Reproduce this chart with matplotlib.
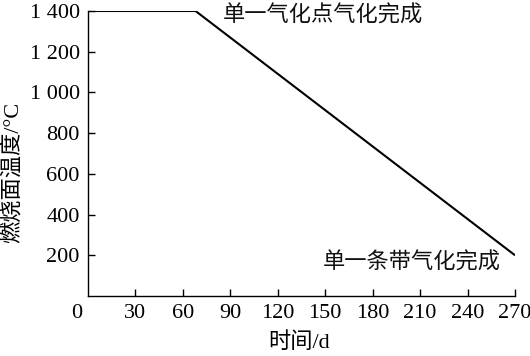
import matplotlib
matplotlib.use("Agg")
import matplotlib.pyplot as plt

days = [0, 68, 270]
temps = [1400, 1400, 200]
xticks = [30, 60, 90, 120, 150, 180, 210, 240, 270]
yticks = [200, 400, 600, 800, 1000, 1200, 1400]
ytick_labels = ["200", "400", "600", "800", "1 000", "1 200", "1 400"]

fam = ['Liberation Serif', 'Noto Sans CJK SC']
plt.rcParams['font.family'] = fam

W, H = 530, 356
fig = plt.figure(figsize=(5.3, 3.56), dpi=100)
ax = fig.add_axes([88 / W, 1 - 296 / H, 427 / W, 285 / H])
ax.plot(days, temps, color='black', lw=1.5, solid_capstyle='butt')
ax.set_xlim(0, 270)
ax.set_ylim(0, 1400)
ax.set_xticks(xticks)
ax.set_xticklabels([str(t) for t in xticks])
ax.set_yticks(yticks)
ax.set_yticklabels(ytick_labels)
for s in ['top', 'right']:
    ax.spines[s].set_visible(False)
for s in ['left', 'bottom']:
    ax.spines[s].set_linewidth(1.0)
ax.tick_params(direction='in', length=5, width=1.0, labelsize=16, pad=6)
fig.text(82 / W, 1 - 314 / H, "0", ha='right', va='center', fontsize=16)
fig.text(299 / W, 1 - 343 / H, "时间/d", ha='center', va='center', fontsize=16)
fig.text(13 / W, 1 - 172 / H, "燃烧面温度/°C", ha='center', va='center',
         rotation=90, fontsize=16)
ax.text(85.4, 1380, "单一气化点气化完成", fontsize=16, ha='left', va='center',
        family=['Noto Sans CJK SC'], fontweight='light', color='#111111')
ax.text(204.5, 167, "单一条带气化完成", fontsize=16, ha='center', va='center',
        family=['Noto Sans CJK SC'], fontweight='light', color='#111111')
fig.savefig("out.png", dpi=100)
